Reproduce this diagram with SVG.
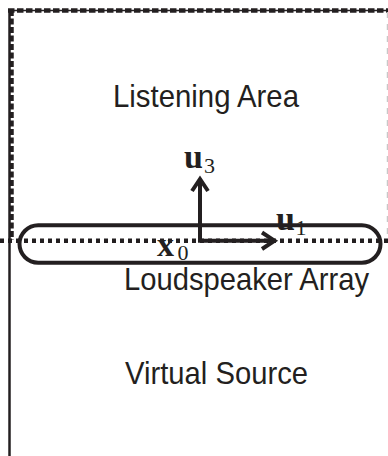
<svg xmlns="http://www.w3.org/2000/svg" width="388" height="456" viewBox="0 0 388 456">
  <defs>
    <style>
      .ink { stroke: #231f20; fill: none; }
      .label { font-family: "Liberation Sans", Arial, sans-serif; font-size: 32px; fill: #231f20; }
      .vec { font-family: "Liberation Serif", "Times New Roman", serif; font-weight: bold; font-size: 34px; fill: #231f20; }
      .sub { font-family: "Liberation Serif", "Times New Roman", serif; font-size: 22px; fill: #231f20; }
    </style>
  </defs>

  <!-- region boundaries -->
  <g id="listening-area">
    <line class="ink" x1="8" y1="10.5" x2="388" y2="10.5" stroke-width="1.5"/>
    <line class="ink" x1="8" y1="10.5" x2="388" y2="10.5" stroke-width="4.5" stroke-dasharray="6.5 2.5"/>
    <line class="ink" x1="11.5" y1="10" x2="11.5" y2="240" stroke-width="4.5" stroke-dasharray="6 2.5"/>
    <line x1="387.5" y1="12" x2="387.5" y2="240" stroke="#c8c8c8" stroke-width="1.5" stroke-dasharray="6 6"/>
    <text class="label" x="113" y="107" textLength="186" lengthAdjust="spacingAndGlyphs">Listening Area</text>
  </g>

  <g id="virtual-source">
    <line class="ink" x1="9.5" y1="10" x2="9.5" y2="456" stroke-width="2.5"/>
    <text class="label" x="125" y="384" textLength="183" lengthAdjust="spacingAndGlyphs">Virtual Source</text>
  </g>

  <!-- array plane -->
  <line class="ink" x1="0" y1="240.7" x2="388" y2="240.7" stroke-width="4.5" stroke-dasharray="4 4"/>

  <g id="loudspeaker-array">
    <rect class="ink" x="19.5" y="225.3" width="361" height="37.4" rx="18.7" ry="18.7" stroke-width="4"/>
    <text class="label" x="124" y="290" textLength="245" lengthAdjust="spacingAndGlyphs">Loudspeaker Array</text>
  </g>

  <!-- local coordinate axes -->
  <g id="connectors">
    <polyline class="ink" points="200,179 200,240.7 274,240.7" stroke-width="4"/>
    <polyline class="ink" points="192,191 200,179 208,191" stroke-width="4" stroke-linejoin="miter"/>
    <polyline class="ink" points="262,232.5 274.5,240.7 262,249" stroke-width="4" stroke-linejoin="miter"/>
  </g>

  <g id="u3">
    <text class="vec" x="184" y="168">u</text>
    <text class="sub" x="204" y="173">3</text>
  </g>
  <g id="u1">
    <text class="vec" x="276" y="230">u</text>
    <text class="sub" x="295.5" y="235">1</text>
  </g>
  <g id="x0">
    <text class="vec" x="157" y="256">x</text>
    <text class="sub" x="177.5" y="260">0</text>
  </g>
</svg>
